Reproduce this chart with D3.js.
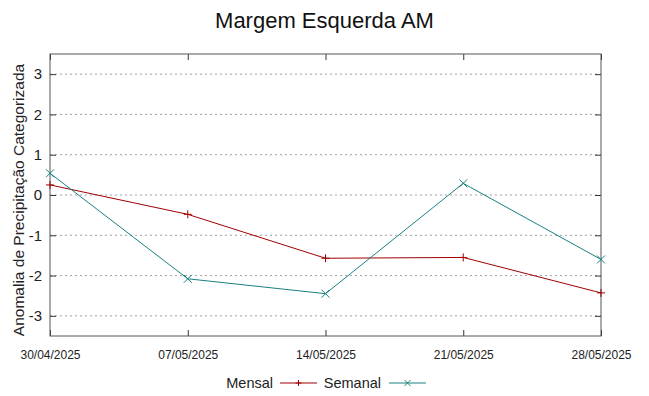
<!DOCTYPE html>
<html>
<head>
<meta charset="utf-8">
<script src="https://cdn.jsdelivr.net/npm/d3@7"></script>
<style>
  body { margin: 0; background: #fff; }
  svg { font-family: "Liberation Sans", Arial, sans-serif; }
</style>
</head>
<body>
<div id="chart"></div>
<script>
// datas e valores
var dates = ['30/04/2025', '07/05/2025', '14/05/2025', '21/05/2025', '28/05/2025'];
var mensal = [0.25, -0.48, -1.57, -1.55, -2.43];
var semanal = [0.54, -2.08, -2.45, 0.29, -1.6];
var yTicks = [-3, -2, -1, 0, 1, 2, 3];

var W = 649, H = 396;
var margin = { top: 54, right: 48, bottom: 60, left: 50 };
var width = W - margin.left - margin.right,
    height = H - margin.top - margin.bottom;

var parse = d3.timeParse('%d/%m/%Y');
var dd = dates.map(parse);

var svg = d3.select('#chart').append('svg').attr('width', W).attr('height', H);
var g = svg.append('g').attr('transform', `translate(${margin.left},${margin.top})`);

var x = d3.scaleTime().domain(d3.extent(dd)).range([0, width]);
var y = d3.scaleLinear().domain([-3.5, 3.5]).range([height, 0]);

// grade
g.selectAll('.grid').data(yTicks).enter().append('line')
    .attr('x1', 0).attr('x2', width)
    .attr('y1', d => y(d)).attr('y2', d => y(d))
    .attr('stroke', '#a0a0a0').attr('stroke-width', 1)
    .attr('stroke-dasharray', '2,3');

// eixos com ticks internos e espelhados
var axL = g.append('g').call(d3.axisLeft(y).tickValues(yTicks).tickSize(-6).tickPadding(8).tickFormat(d => String(d)));
var axR = g.append('g').attr('transform', `translate(${width},0)`).call(d3.axisRight(y).tickValues(yTicks).tickSize(-6).tickFormat(''));
var axB = g.append('g').attr('transform', `translate(0,${height})`).call(d3.axisBottom(x).tickValues(dd).tickSize(-6).tickPadding(14).tickFormat(d3.timeFormat('%d/%m/%Y')));
var axT = g.append('g').call(d3.axisTop(x).tickValues(dd).tickSize(-6).tickFormat(''));
[axL, axR, axB, axT].forEach(a => {
    a.select('.domain').remove();
    a.selectAll('line').attr('stroke', '#333');
});
axL.selectAll('text').attr('font-size', 15).attr('fill', '#222').attr('font-family', 'Liberation Sans');
axB.selectAll('text').attr('font-size', 12).attr('fill', '#222').attr('font-family', 'Liberation Sans');

g.append('rect').attr('width', width).attr('height', height)
    .attr('fill', 'none').attr('stroke', '#555').attr('stroke-width', 1);

var series = [
    { name: 'Mensal', values: mensal, color: '#a00000', mark: 'plus' },
    { name: 'Semanal', values: semanal, color: '#1a8080', mark: 'cross' }
];

var line = d3.line().x((d, i) => x(dd[i])).y(d => y(d));

function marker(sel, type, color, s) {
    if (type === 'plus') {
        sel.append('path').attr('d', `M${-s},0H${s}M0,${-s}V${s}`);
    } else {
        sel.append('path').attr('d', `M${-s},${-s}L${s},${s}M${-s},${s}L${s},${-s}`);
    }
    sel.selectAll('path').attr('stroke', color).attr('stroke-width', 1).attr('fill', 'none');
}

series.forEach(s => {
    g.append('path').datum(s.values).attr('d', line)
        .attr('fill', 'none').attr('stroke', s.color).attr('stroke-width', 1);
    g.selectAll(null).data(s.values).enter().append('g')
        .attr('transform', (d, i) => `translate(${x(dd[i])},${y(d)})`)
        .each(function () { marker(d3.select(this), s.mark, s.color, 4); });
});

// título
svg.append('text').attr('x', W / 2).attr('y', 28).attr('text-anchor', 'middle')
    .attr('font-size', 22).attr('fill', '#111').text('Margem Esquerda AM');

// rótulo do eixo y
svg.append('text').attr('transform', `translate(24,200) rotate(-90)`)
    .attr('text-anchor', 'middle').attr('font-size', 15.5).attr('fill', '#222')
    .text('Anomalia de Precipitação Categorizada');

// legenda
var legend = [
    { s: series[0], textEnd: 273, x0: 280 },
    { s: series[1], textEnd: 381, x0: 389 }
];
legend.forEach(l => {
    svg.append('text').attr('x', l.textEnd).attr('y', 388).attr('text-anchor', 'end')
        .attr('font-size', 14.5).attr('fill', '#222').text(l.s.name);
    svg.append('line').attr('x1', l.x0).attr('x2', l.x0 + 37).attr('y1', 383).attr('y2', 383)
        .attr('stroke', l.s.color).attr('stroke-width', 1);
    var m = svg.append('g').attr('transform', `translate(${l.x0 + 18.5},383)`);
    marker(m, l.s.mark, l.s.color, 3);
});
</script>
</body>
</html>
